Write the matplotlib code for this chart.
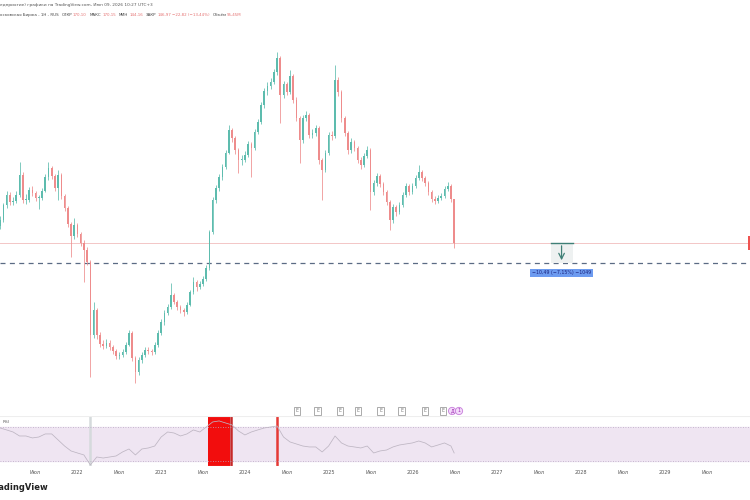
import matplotlib
matplotlib.use("Agg")
import matplotlib.pyplot as plt
import matplotlib.dates as mdates
import pandas as pd
from matplotlib.patches import Rectangle

plt.rcParams['font.family'] = ['DejaVu Sans']

# ---------------- data ----------------
start_date = "2021-02-01"
first_open = 156.0
closes = [159.0, 166.9, 172.1, 168.5, 169.0, 172.1, 182.6, 169.5, 169.5, 174.8,
          173.2, 170.6, 170.6, 174.2, 181.6, 186.3, 182.1, 175.8, 182.6, 171.6,
          165.3, 156.9, 150.6, 156.4, 151.7, 147.0, 143.3, 137.0, 98.7, 111.8,
          98.7, 94.0, 93.0, 94.5, 92.4, 90.3, 87.7, 88.2, 89.8, 93.5,
          99.8, 86.7, 79.3, 85.6, 88.2, 90.9, 90.3, 89.8, 93.5, 99.8,
          105.5, 110.3, 113.4, 119.7, 116.0, 113.4, 111.8, 110.8, 114.5, 121.3,
          126.5, 123.9, 125.5, 128.1, 133.9, 152.7, 169.5, 175.8, 181.6, 186.8,
          194.2, 206.2, 202.0, 195.7, 190.5, 190.5, 193.1, 198.9, 196.8, 205.2,
          210.4, 219.3, 226.7, 229.3, 231.4, 236.6, 244.0, 224.6, 230.4, 226.2,
          234.5, 222.0, 212.5, 201.0, 212.5, 214.1, 203.6, 204.7, 207.3, 190.5,
          185.3, 194.2, 203.6, 203.1, 232.4, 226.2, 212.5, 204.7, 195.7, 199.9,
          196.8, 190.5, 187.9, 192.6, 195.7, 173.7, 178.4, 182.1, 177.9, 173.7,
          168.5, 159.0, 165.9, 163.2, 166.9, 172.1, 176.9, 173.7, 176.9, 181.1,
          184.2, 181.1, 178.4, 173.7, 170.1, 169.0, 170.6, 171.6, 175.3, 176.9,
          170.1, 146.97]
highs = [161.0, 168.2, 174.0, 173.5, 171.2, 174.3, 189.4, 184.0, 172.8, 176.4,
         176.9, 174.5, 172.3, 175.9, 183.0, 189.4, 187.5, 183.4, 185.2, 183.8,
         172.9, 166.5, 158.0, 160.0, 157.6, 153.0, 148.5, 144.8, 138.2, 116.0,
         112.9, 100.5, 96.2, 96.8, 95.9, 93.6, 91.5, 90.0, 91.3, 95.0,
         101.5, 100.6, 87.8, 87.1, 89.9, 92.5, 92.4, 91.6, 95.2, 101.3,
         107.0, 111.8, 115.1, 126.0, 121.0, 117.2, 114.6, 113.0, 115.8, 122.6,
         128.9, 127.8, 127.3, 129.7, 135.2, 154.0, 171.0, 177.4, 183.2, 188.5,
         196.0, 208.8, 207.4, 203.1, 197.0, 193.2, 195.0, 200.6, 200.2, 206.9,
         212.0, 220.8, 228.4, 231.2, 233.5, 238.3, 247.1, 245.2, 232.0, 231.6,
         237.7, 235.6, 223.4, 213.8, 214.3, 216.4, 215.2, 206.9, 209.1, 208.4,
         191.8, 195.9, 205.4, 205.9, 240.3, 234.0, 227.3, 213.8, 205.9, 201.8,
         201.1, 198.0, 192.0, 194.2, 197.6, 196.8, 180.0, 183.9, 183.3, 179.1,
         174.9, 169.6, 167.4, 167.0, 168.5, 173.8, 178.5, 178.0, 178.4, 182.9,
         187.9, 185.4, 182.3, 179.5, 174.9, 171.6, 172.3, 173.2, 176.8, 179.0,
         177.8, 170.15]
lows = [154.5, 158.0, 165.5, 166.8, 166.9, 167.8, 171.0, 167.9, 167.2, 168.3,
        171.5, 168.8, 165.0, 169.4, 173.5, 180.2, 180.6, 174.1, 169.5, 170.0,
        163.8, 155.2, 139.6, 149.3, 150.0, 145.2, 126.5, 135.5, 76.7, 97.0,
        96.8, 92.6, 91.4, 91.8, 90.8, 88.9, 86.0, 86.4, 87.0, 88.6,
        92.8, 85.0, 73.6, 78.0, 84.3, 87.0, 88.8, 88.1, 88.7, 92.4,
        98.9, 104.2, 109.0, 112.5, 114.8, 112.0, 110.3, 108.9, 109.7, 113.8,
        120.5, 122.0, 122.8, 124.4, 127.0, 133.0, 151.8, 168.0, 174.4, 180.1,
        185.7, 193.5, 199.8, 193.9, 183.7, 188.0, 189.4, 192.0, 181.6, 195.8,
        204.0, 209.3, 218.0, 224.6, 227.6, 230.2, 235.0, 209.9, 222.8, 224.4,
        225.0, 220.3, 210.8, 188.9, 199.6, 211.0, 202.0, 201.9, 203.2, 188.6,
        169.5, 184.0, 193.1, 201.2, 202.0, 224.3, 210.6, 203.0, 193.9, 194.2,
        195.0, 188.7, 185.8, 186.8, 191.4, 164.3, 172.1, 177.0, 176.2, 172.0,
        166.8, 153.8, 157.6, 161.4, 162.0, 165.8, 171.0, 172.0, 172.6, 175.8,
        180.0, 179.5, 176.9, 172.2, 168.6, 167.2, 167.9, 169.4, 170.5, 174.2,
        168.4, 144.16]
rsi_values = [68.8, 66.5, 64.1, 59.4, 59.4, 57.1, 58.2, 61.8, 61.8, 54.7,
              47.6, 41.8, 39.4, 37.1, 25.3, 34.7, 33.5, 34.7, 35.9, 40.6,
              44.1, 37.1, 44.1, 45.3, 47.6, 58.2, 64.1, 62.9, 59.4, 61.8,
              66.5, 64.1, 70.0, 75.9, 77.1, 74.7, 72.4, 65.3, 60.6, 64.1,
              66.5, 68.8, 70.0, 71.2, 58.2, 52.4, 50.0, 47.6, 46.5, 46.5,
              40.6, 47.6, 59.4, 51.2, 47.6, 46.5, 45.3, 47.6, 39.4, 41.8,
              42.9, 46.5, 48.8, 50.0, 51.2, 53.5, 51.2, 46.5, 48.8, 51.2,
              47.6, 39.4]

tick_dates = ["2021-07-01", "2022-01-01", "2022-07-01", "2023-01-01", "2023-07-01",
              "2024-01-01", "2024-07-01", "2025-01-01", "2025-07-01", "2026-01-01",
              "2026-07-01", "2027-01-01", "2027-07-01", "2028-01-01", "2028-07-01",
              "2029-01-01", "2029-07-01"]
tick_labels = ["Июл", "2022", "Июл", "2023", "Июл", "2024", "Июл", "2025", "Июл",
               "2026", "Июл", "2027", "Июл", "2028", "Июл", "2029", "Июл"]

event_dates = ["2024-08-13", "2024-11-12", "2025-02-17", "2025-05-06", "2025-08-13",
               "2025-11-12", "2026-02-22", "2026-05-11"]
event_labels = ["E"] * len(event_dates)
special_dates = ["2026-06-20", "2026-07-20"]
special_labels = ["Д", "1"]

rsi_zone = ("2023-07-23", "2023-10-27")
rsi_marks = [("2022-02-26", "#d5dadc"), ("2023-11-03", "#c62828"), ("2024-05-18", "#e53935")]

last_price = 146.97
target_price = 136.48
measure_start, measure_mid, measure_end = "2027-08-22", "2027-10-09", "2027-11-26"
measure_label = "−10,49 (−7,15%) −1049"

header1 = "едприятие) графики на TradingView.com, Июн 09, 2026 10:27 UTC+3"
header2_groups = [[("осковская Биржа - 1Н - RUS", "#444444")],
                  [("ОТКР", "#444444"), ("170,10", "#e57373")],
                  [("МАКС", "#444444"), ("170,15", "#e57373")],
                  [("МИН", "#444444"), ("144,16", "#e57373")],
                  [("ЗАКР", "#444444"), ("146,97", "#e57373"), ("−22,82 (−13,44%)", "#e57373")],
                  [("Объём", "#444444"), ("95,45M", "#e57373")]]

# ---------------- figure ----------------
fig = plt.figure(figsize=(7.5, 5), dpi=100)
fig.patch.set_facecolor("white")

dates = pd.date_range(start_date, periods=len(closes), freq="14D")
opens = [first_open] + closes[:-1]
dnum = mdates.date2num(dates)

ref = mdates.date2num(pd.Timestamp("2022-01-01"))
dpp = 365.25 / 84.0
xlim = (ref - 77 * dpp, ref + 673 * dpp)

ax = fig.add_axes([0, 0.17, 1, 0.78])
ax.set_xlim(*xlim)
ax.set_ylim(56.8, 261.3)
ax.axis("off")

up_col, dn_col = "#5dbcae", "#ee8c8c"
for d, o, h, l, c in zip(dnum, opens, highs, lows, closes):
    col = up_col if c >= o else dn_col
    ax.vlines(d, l, h, color=col, lw=0.55, zorder=2)
    body = max(abs(c - o), 0.6)
    ax.bar(d, body, bottom=min(o, c), width=7.0, color=col, lw=0, zorder=3)

ax.axhline(last_price, color="#f3c6c6", lw=0.7, zorder=1)
ax.axhline(target_price, color="#5b6b84", lw=0.9, ls=(0, (4, 3.5)), zorder=1)

ms, mm, me = [mdates.date2num(pd.Timestamp(s)) for s in (measure_start, measure_mid, measure_end)]
ax.add_patch(Rectangle((ms, target_price), me - ms, last_price - target_price,
                       facecolor="#eef1f1", edgecolor="none", zorder=1))
ax.plot([ms, me], [last_price, last_price], color="#3f7f76", lw=1.0, zorder=4)
ax.annotate("", xy=(mm, target_price), xytext=(mm, last_price),
            arrowprops=dict(arrowstyle="->", color="#3f7f76", lw=0.9), zorder=4)
ax.annotate(measure_label, xy=(mm, target_price), xytext=(0, -7), textcoords="offset points",
            ha="center", va="center", fontsize=3.4, color="#1a237e",
            bbox=dict(boxstyle="square,pad=0.35", facecolor="#6d9bf0", edgecolor="none"))

# right-edge price tag sliver
ax.add_patch(Rectangle((xlim[1] - 2 * dpp, last_price - 3.5), 3 * dpp, 7, facecolor="#ef5350",
                       edgecolor="none", zorder=5))

xt = ax.get_xaxis_transform()
for ds, lab in zip(event_dates, event_labels):
    ax.text(mdates.date2num(pd.Timestamp(ds)), 0.0103, lab, transform=xt, ha="center", va="center",
            fontsize=3.3, color="#777777",
            bbox=dict(boxstyle="square,pad=0.35", facecolor="white", edgecolor="#9e9e9e", lw=0.6))
for ds, lab in zip(special_dates, special_labels):
    ax.text(mdates.date2num(pd.Timestamp(ds)), 0.0103, lab, transform=xt, ha="center", va="center",
            fontsize=3.3, color="#9c27b0",
            bbox=dict(boxstyle="circle,pad=0.25", facecolor="#f3d9fa", edgecolor="#c77ddb", lw=0.6))

# ---------------- RSI pane ----------------
rax = fig.add_axes([0, 0.068, 1, 0.1])
rax.set_xlim(*xlim)
rax.set_ylim(24.1, 82.9)
for s in rax.spines.values():
    s.set_visible(False)
rax.axhspan(30, 70, color="#efe5f2", zorder=0)
rax.axhline(70, color="#b9a9c4", lw=0.6, ls=(0, (1, 2)))
rax.axhline(30, color="#b9a9c4", lw=0.6, ls=(0, (1, 2)))
rax.axhline(82.9, color="#eeeeee", lw=0.8)
rax.axhline(24.1, color="#eeeeee", lw=0.8)

z0, z1 = [mdates.date2num(pd.Timestamp(s)) for s in rsi_zone]
rax.axvspan(z0, z1, color="#f20d0d", lw=0, zorder=1)
for ds, col in rsi_marks:
    rax.axvline(mdates.date2num(pd.Timestamp(ds)), color=col, lw=1.8, zorder=1)

rsi_x = list(dnum[::2]) + [dnum[-1]]
rax.plot(rsi_x, rsi_values, color="#bdb5c2", lw=0.55, zorder=2)
rax.text(0.004, 0.88, "RSI", transform=rax.transAxes, fontsize=3.2, color="#666666", va="center")

rax.set_xticks([mdates.date2num(pd.Timestamp(s)) for s in tick_dates])
rax.set_xticklabels(tick_labels, fontsize=3.5, color="#555555")
rax.tick_params(axis="x", length=0, pad=3)
rax.set_yticks([])

# ---------------- header / footer ----------------
fig.text(0.0, 1 - 5 / 500, header1, fontsize=3.1, color="#555555", va="center", ha="left")

renderer = fig.canvas.get_renderer()
cur_px = 0.0
for gi, group in enumerate(header2_groups):
    for ti, (txt, col) in enumerate(group):
        t = fig.text(cur_px / 750, 1 - 15 / 500, txt, fontsize=2.9, color=col, va="center", ha="left")
        w = t.get_window_extent(renderer=renderer).width
        cur_px += w + 0.8
    cur_px += 2.2

fig.text(-10 / 750, 1 - 488 / 500, "TradingView", fontsize=6, fontweight="bold", color="#222222",
         va="center", ha="left")

fig.savefig("out.png", dpi=100, facecolor="white")
